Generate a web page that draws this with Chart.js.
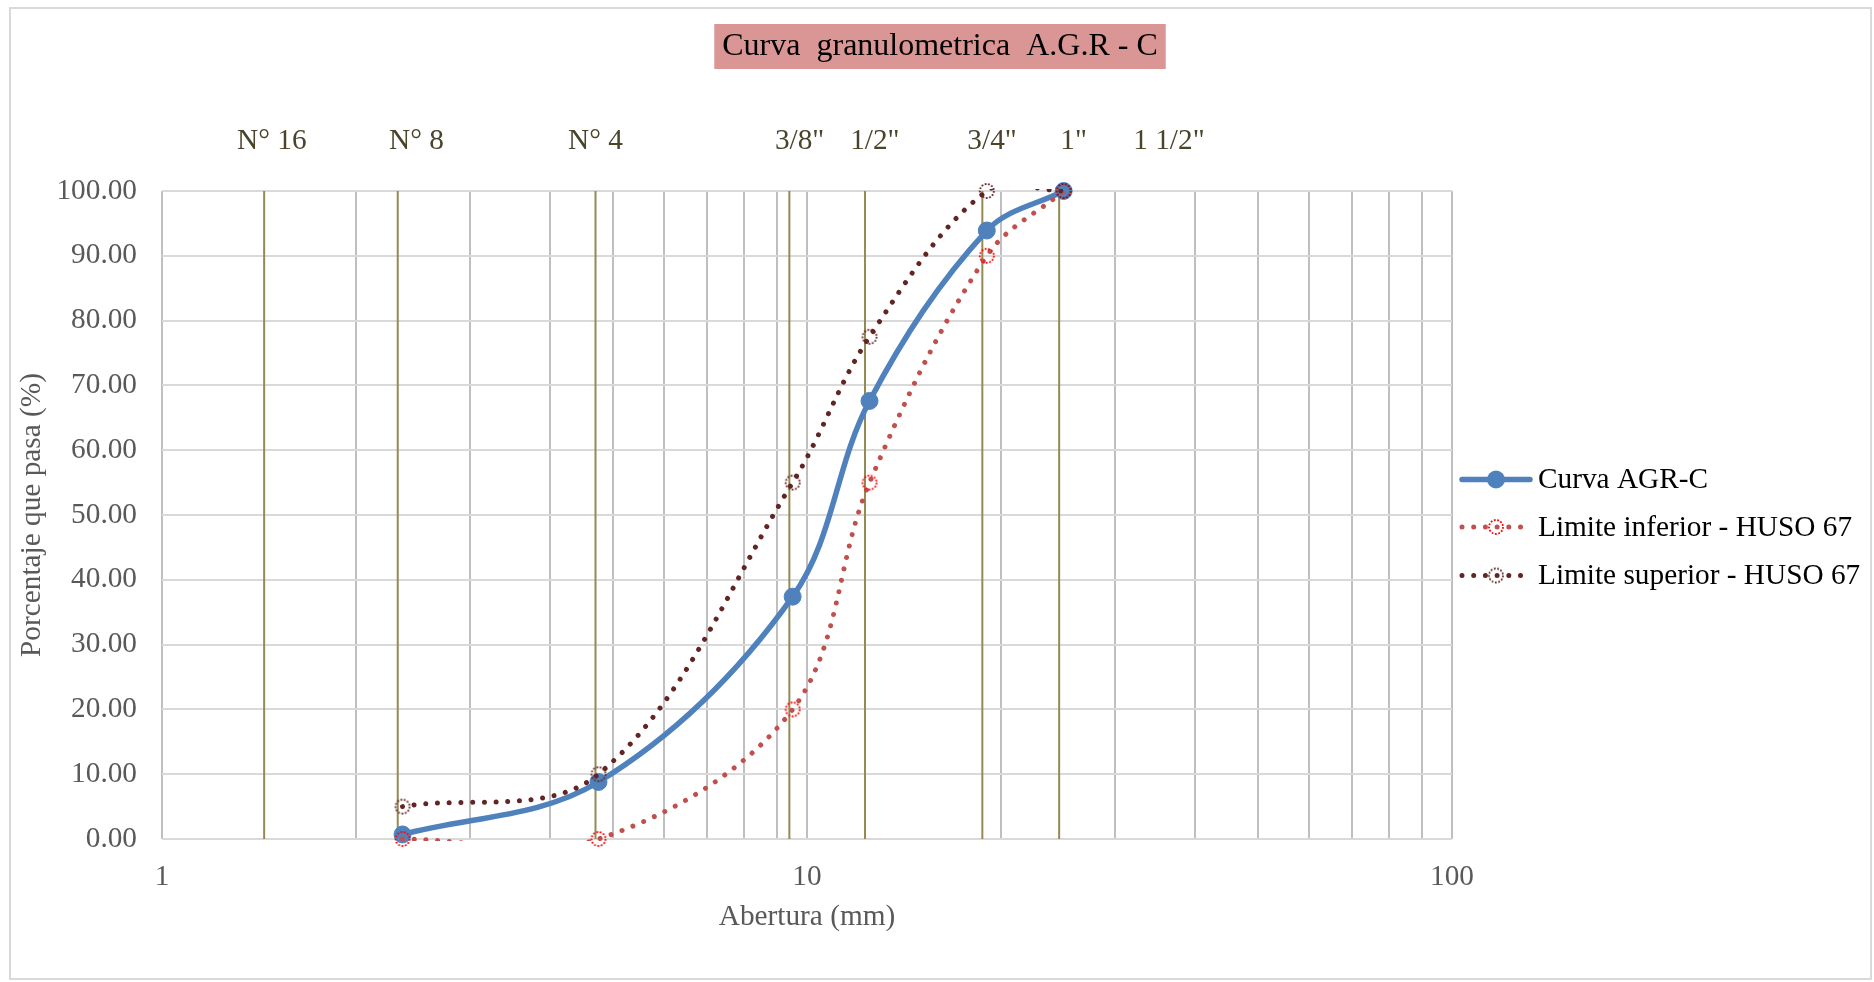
<!DOCTYPE html>
<html>
<head>
<meta charset="utf-8">
<script src="https://cdn.jsdelivr.net/npm/chart.js@4.4.1/dist/chart.umd.min.js"></script>
<style>
  html, body { margin: 0; padding: 0; background: #fff; }
  #frame { position: absolute; left: 9px; top: 7px; width: 1863px; height: 973px; border: 2px solid #D9D9D9; box-sizing: border-box; }
  #wrap { position: absolute; left: 0; top: 0; width: 1874px; height: 982px; }
</style>
</head>
<body>
<div id="frame"></div>
<div id="wrap"><canvas id="chart" width="1874" height="982"></canvas></div>
<script>
// data
const aberturaMm = [2.36, 4.75, 9.5, 12.5, 19, 25];
const curvaAGR = [0.7, 8.8, 37.4, 67.6, 93.9, 100];
const limiteInferior = [0, 0, 20, 55, 90, 100];
const limiteSuperior = [5, 10, 55, 77.5, 100, 100];

// sieve marks: vertical lines and the labels on top (as placed in the picture)
const sieveLinesMm = [1.44, 2.32, 4.7, 9.39, 12.3, 18.7, 24.6];
const sieveLabelMm = [1.48, 2.48, 4.7, 9.74, 12.74, 19.36, 25.9, 36.4];
const sieveLabels = ['N° 16', 'N° 8', 'N° 4', '3/8"', '1/2"', '3/4"', '1"', '1 1/2"'];

// axes
const xTicks = [1, 2, 3, 4, 5, 6, 7, 8, 9, 10, 20, 30, 40, 50, 60, 70, 80, 90, 100];
const xLabeled = [1, 10, 100];
const seriesNames = ['Curva AGR-C', 'Limite inferior - HUSO 67', 'Limite superior - HUSO 67'];

const FONT = "'Liberation Serif', 'Times New Roman', serif";
const FS = 29.3;
const BLUE = '#4F81BD';
const INF_LINE = '#C0504D';
const INF_RING = '#FF0000';
const SUP_LINE = '#632523';
const SUP_RING = '#632523';
const OLIVE = '#948A54';

const toXY = (ys) => aberturaMm.map((x, i) => ({ x: x, y: ys[i] }));

// dotted hollow circle used as marker
function ringMarker(color, r) {
  const c = document.createElement('canvas');
  c.width = c.height = 2 * r + 4;
  const g = c.getContext('2d');
  g.strokeStyle = color;
  g.lineWidth = 1.8;
  g.setLineDash([1.8, 1.6]);
  g.beginPath();
  g.arc(r + 2, r + 2, r, 0, Math.PI * 2);
  g.stroke();
  return c;
}
const infRing = ringMarker(INF_RING, 7);
const supRing = ringMarker(SUP_RING, 7);

// vertical sieve lines, one dataset with gaps
const sieveData = [];
sieveLinesMm.forEach(s => {
  sieveData.push({ x: s, y: 0 }, { x: s, y: 100 }, { x: s, y: null });
});

const dotted = {
  borderWidth: 5,
  borderDash: [0.001, 11.7],
  borderCapStyle: 'round',
  pointRadius: 0,
  tension: 0.35,
  clip: 2
};

const datasets = [
  // markers (not clipped)
  { data: toXY(limiteSuperior), showLine: false, pointStyle: supRing, pointRadius: 7, clip: false, order: 0 },
  { data: toXY(limiteSuperior), showLine: true, borderColor: SUP_LINE, ...dotted, order: 1 },
  { data: toXY(limiteInferior), showLine: false, pointStyle: infRing, pointRadius: 7, clip: false, order: 2 },
  { data: toXY(limiteInferior), showLine: true, borderColor: INF_LINE, ...dotted, order: 3 },
  { data: toXY(curvaAGR), showLine: false, pointRadius: 8.5, pointBorderWidth: 1,
    pointBackgroundColor: BLUE, pointBorderColor: BLUE, clip: false, order: 4 },
  { data: toXY(curvaAGR), showLine: true, borderColor: BLUE, borderWidth: 5.5, borderCapStyle: 'round',
    pointRadius: 0, tension: 0.35, clip: 2, order: 5 },
  { data: sieveData, showLine: true, borderColor: OLIVE, borderWidth: 2, pointRadius: 0,
    tension: 0, spanGaps: false, clip: 2, order: 6 }
];

// title box and legend drawn on canvas
const decor = {
  id: 'decor',
  afterDraw(chart) {
    const ctx = chart.ctx;
    const area = chart.chartArea;
    ctx.save();

    // title
    const title = 'Curva  granulometrica  A.G.R - C';
    ctx.font = '32px ' + FONT;
    const tw = ctx.measureText(title).width;
    const cx = chart.width / 2 + 3;
    ctx.fillStyle = '#D99694';
    ctx.fillRect(cx - tw / 2 - 8, 24, tw + 16, 45);
    ctx.fillStyle = '#000';
    ctx.textAlign = 'center';
    ctx.textBaseline = 'middle';
    ctx.fillText(title, cx, 47);

    // legend
    const x0 = area.right + 8;
    const x1 = area.right + 80;
    const mx = (x0 + x1) / 2;
    const rows = [479.5, 527, 575.5];
    ctx.textAlign = 'left';
    ctx.font = FS + 'px ' + FONT;
    rows.forEach((y, i) => {
      ctx.beginPath();
      ctx.lineCap = 'round';
      if (i === 0) {
        ctx.setLineDash([]);
        ctx.strokeStyle = BLUE;
        ctx.lineWidth = 5.5;
        ctx.moveTo(x0 + 2, y);
        ctx.lineTo(x1 - 2, y);
        ctx.stroke();
        ctx.fillStyle = BLUE;
        ctx.beginPath();
        ctx.arc(mx, y, 9, 0, Math.PI * 2);
        ctx.fill();
      } else {
        ctx.setLineDash([0.001, 11.7]);
        ctx.strokeStyle = i === 1 ? INF_LINE : SUP_LINE;
        ctx.lineWidth = 5;
        ctx.moveTo(x0 + 2, y);
        ctx.lineTo(x1 - 2, y);
        ctx.stroke();
        const ring = i === 1 ? infRing : supRing;
        ctx.drawImage(ring, mx - ring.width / 2, y - ring.height / 2);
      }
      ctx.fillStyle = '#000';
      ctx.fillText(seriesNames[i], x1 + 6, y + 1);
    });
    ctx.restore();
  }
};

const ctx = document.getElementById('chart').getContext('2d');
const granChart = new Chart(ctx, {
  type: 'scatter',
  data: { datasets: datasets },
  options: {
    responsive: false,
    animation: false,
    layout: { padding: { left: 15, right: 422, top: 90, bottom: 47 } },
    elements: { line: { capBezierPoints: false } },
    plugins: {
      legend: { display: false },
      title: { display: false },
      tooltip: { enabled: false }
    },
    scales: {
      x: {
        type: 'logarithmic',
        position: 'bottom',
        min: 1,
        max: 100,
        afterBuildTicks: s => { s.ticks = xTicks.map(v => ({ value: v })); },
        afterFit: s => { s.height = 96; },
        ticks: {
          autoSkip: false,
          maxRotation: 0,
          minRotation: 0,
          padding: 21,
          color: '#595959',
          font: { family: FONT, size: FS },
          callback: v => xLabeled.includes(v) ? String(v) : ''
        },
        grid: { color: '#BFBFBF', lineWidth: 2, drawTicks: false },
        border: { display: false },
        title: {
          display: true,
          text: 'Abertura (mm)',
          color: '#595959',
          font: { family: FONT, size: FS },
          padding: 0
        }
      },
      xTop: {
        type: 'logarithmic',
        position: 'top',
        min: 1,
        max: 100,
        afterBuildTicks: s => { s.ticks = sieveLabelMm.map(v => ({ value: v })); },
        afterFit: s => { s.height = 101; },
        ticks: {
          autoSkip: false,
          maxRotation: 0,
          minRotation: 0,
          padding: 32,
          color: '#4A452A',
          font: { family: FONT, size: FS },
          callback: (v, i) => sieveLabels[i]
        },
        grid: { display: false, drawTicks: false },
        border: { display: false }
      },
      y: {
        min: 0,
        max: 100,
        afterFit: s => { s.width = 147; },
        ticks: {
          stepSize: 10,
          padding: 25,
          color: '#595959',
          font: { family: FONT, size: FS },
          callback: v => v.toFixed(2)
        },
        grid: { color: '#D9D9D9', lineWidth: 2, drawTicks: false },
        border: { display: false },
        title: {
          display: true,
          text: 'Porcentaje que pasa (%)',
          color: '#595959',
          font: { family: FONT, size: FS },
          padding: 0
        }
      }
    }
  },
  plugins: [decor]
});
</script>
</body>
</html>
